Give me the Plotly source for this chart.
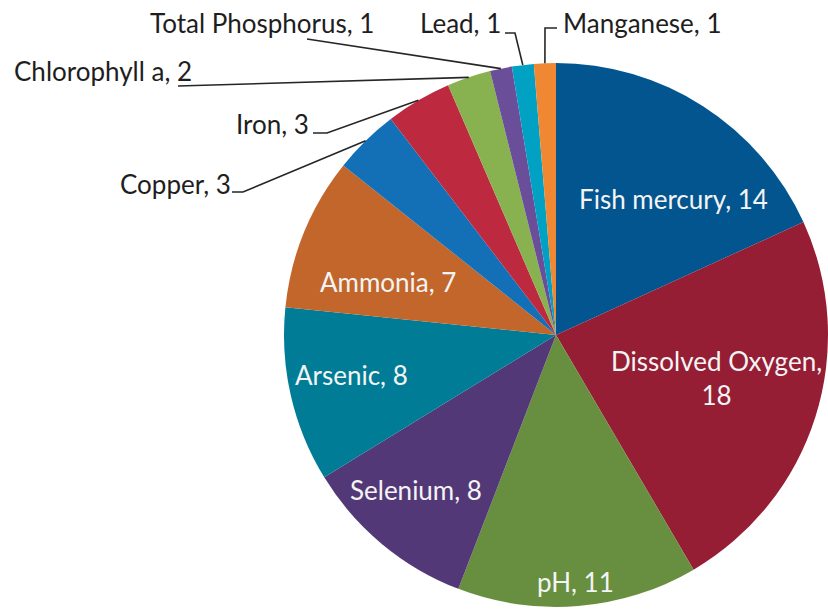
import math
import plotly.graph_objects as go

# ---- data ----
labels = ["Fish mercury", "Dissolved Oxygen", "pH", "Selenium", "Arsenic", "Ammonia",
          "Copper", "Iron", "Chlorophyll a", "Total Phosphorus", "Lead", "Manganese"]
values = [14, 18, 11, 8, 8, 7, 3, 3, 2, 1, 1, 1]
colors = ["#02558F", "#951D34", "#678F3F", "#533877", "#017C96", "#C3662B",
          "#136FB6", "#BD2A40", "#88B14F", "#6A4E9A", "#00A1C3", "#F08833"]

# ---- layout (pixels) ----
W, H = 828, 611
CX, CY, R = 556, 335, 272
FONT = "Lato"
FS = 26

# inside labels: text centre
inside_pos = {
    "Fish mercury": (673, 199),
    "Dissolved Oxygen": (716, 378),
    "pH": (575, 582),
    "Selenium": (416, 490),
    "Arsenic": (351, 375),
    "Ammonia": (388, 282),
}
# outside labels: text centre, leader line start points (before reaching the slice)
outside_pos = {
    "Copper": ((175, 184), [(232, 192), (243, 192)]),
    "Iron": ((272, 124), [(313, 133), (327, 133)]),
    "Chlorophyll a": ((103, 71), [(178, 86)]),
    "Total Phosphorus": ((262, 23), [(307, 39)]),
    "Lead": ((460, 23), [(505, 33), (515, 33)]),
    "Manganese": ((642, 23), [(557, 28), (545, 28)]),
}


def px(x):
    return x / W


def py(y):
    return 1 - y / H


fig = go.Figure(go.Pie(
    labels=labels,
    values=values,
    sort=False,
    direction="clockwise",
    rotation=0,
    marker=dict(colors=colors, line=dict(width=0)),
    textinfo="none",
    hoverinfo="label+value",
    showlegend=False,
    domain=dict(x=[px(CX - R), px(CX + R)], y=[py(CY + R), py(CY - R)]),
))

total = sum(values)
annotations = []
shapes = []
cum = 0
for lab, val in zip(labels, values):
    mid = (cum + val / 2) / total * 2 * math.pi
    cum += val
    text = f"{lab}, {val}"
    if lab == "Dissolved Oxygen":
        text = f"{lab},<br>{val}"
    if lab in inside_pos:
        x, y = inside_pos[lab]
        annotations.append(dict(x=px(x), y=py(y), xref="paper", yref="paper", text=text,
                                showarrow=False, xanchor="center", yanchor="middle",
                                font=dict(family=FONT, size=FS, color="#F4F4F4")))
    else:
        (x, y), pts = outside_pos[lab]
        annotations.append(dict(x=px(x), y=py(y), xref="paper", yref="paper", text=text,
                                showarrow=False, xanchor="center", yanchor="middle",
                                font=dict(family=FONT, size=FS, color="#1E1E1E")))
        ex = CX + R * math.sin(mid)
        ey = CY - R * math.cos(mid)
        allpts = pts + [(ex, ey)]
        path = "M " + " L ".join(f"{px(a)},{py(b)}" for a, b in allpts)
        shapes.append(dict(type="path", path=path, xref="paper", yref="paper",
                           line=dict(color="#262626", width=1.6)))

fig.update_layout(
    width=W, height=H,
    margin=dict(l=0, r=0, t=0, b=0),
    paper_bgcolor="white",
    plot_bgcolor="white",
    annotations=annotations,
    shapes=shapes,
)

fig.write_html("out.html", config={"displayModeBar": False},
               post_script="document.body.style.margin='0';")
